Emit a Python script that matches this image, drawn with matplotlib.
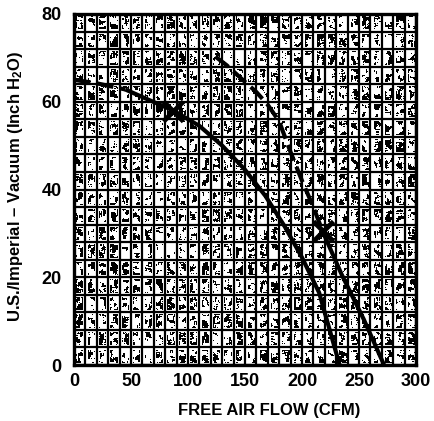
import numpy as np
import matplotlib.pyplot as plt

plt.rcParams['font.family'] = ['Liberation Sans Narrow', 'Liberation Sans', 'DejaVu Sans']
plt.rcParams['font.weight'] = 'bold'
plt.rcParams['font.stretch'] = 'condensed'
plt.rcParams['mathtext.fontset'] = 'custom'
plt.rcParams['mathtext.rm'] = 'Liberation Sans:bold'
plt.rcParams['mathtext.default'] = 'rm'

# axis ticks
flow_ticks = [0, 50, 100, 150, 200, 250, 300]
vac_ticks = [0, 20, 40, 60, 80]

# lower curve: dashed start, then solid
curve_a_dash_flow = [0, 20, 45]
curve_a_dash_vac = [65, 64.2, 62.8]
curve_a_solid_flow = [45, 65, 87, 110, 130, 150, 168, 185, 200, 215, 233]
curve_a_solid_vac = [62.8, 60.5, 58, 54.5, 50, 44.5, 38.5, 31.5, 24.5, 16.5, 0]

# upper curve: dashed down to the operating point, then solid
curve_b_dash_flow = [124, 134, 148, 160, 170, 180, 190, 200, 210, 218]
curve_b_dash_vac = [70.3, 68.3, 65, 62.2, 59.3, 55.5, 48.5, 42, 36, 30.5]
curve_b_solid_flow = [218, 235, 254, 272]
curve_b_solid_vac = [30.5, 20.5, 10.5, 0]

# operating points
op_flow = [87, 218]
op_vac = [58, 30.5]

fig = plt.figure(figsize=(4.34, 4.21), dpi=100)
ax = fig.add_axes([74 / 434, 56 / 421, 342 / 434, 351 / 421])

# halftone fill: a speckled clump inside every grid cell
rows, cols = 351, 342
rng = np.random.default_rng(7)
noise = rng.random((rows, cols))
k = np.ones(4) / 4
blur = np.apply_along_axis(lambda r: np.convolve(r, k, 'same'), 1, noise)
blur = np.apply_along_axis(lambda c: np.convolve(c, k, 'same'), 0, blur)
fx = (((np.arange(cols) + 0.5) * 300 / cols) % 10) / 10
fy = (((np.arange(rows) + 0.5) * 80 / rows) % 4) / 4
inside = ((fx > 0.2) & (fx < 0.82))[None, :] & ((fy > 0.12) & (fy < 0.88))[:, None]
speck = (blur > 0.52) & inside
ax.imshow(np.where(speck, 0.0, 1.0), cmap='gray', vmin=0, vmax=1,
          extent=(0, 300, 0, 80), aspect='auto', origin='lower',
          interpolation='nearest', zorder=0)

ax.set_xlim(0, 300)
ax.set_ylim(0, 80)
ax.set_xticks(flow_ticks)
ax.set_yticks(vac_ticks)
ax.set_xticks(np.arange(0, 301, 10), minor=True)
ax.set_yticks(np.arange(0, 81, 4), minor=True)
ax.grid(which='both', color='black', lw=1.6, zorder=1)
ax.set_axisbelow(False)
ax.tick_params(which='both', length=0)
ax.tick_params(axis='x', pad=6, labelsize=13)
ax.tick_params(axis='y', pad=9, labelsize=13)
for s in ax.spines.values():
    s.set_linewidth(2.4)

lw = 3.0
dash = (4, 1.6)
ax.plot(curve_a_dash_flow, curve_a_dash_vac, color='black', lw=lw,
        dashes=dash, zorder=3)
ax.plot(curve_a_solid_flow, curve_a_solid_vac, color='black', lw=lw,
        solid_capstyle='butt', zorder=3)
ax.plot(curve_b_dash_flow, curve_b_dash_vac, color='black', lw=lw,
        dashes=dash, zorder=3)
ax.plot(curve_b_solid_flow, curve_b_solid_vac, color='black', lw=lw,
        solid_capstyle='butt', zorder=3)
ax.plot(op_flow, op_vac, linestyle='none', marker='x', color='black',
        markersize=15, mew=3.5, zorder=4)

ax.set_xlabel('FREE AIR FLOW (CFM)', fontsize=12, fontweight='bold')
ax.xaxis.set_label_coords(0.572, -0.108)
ax.set_ylabel('U.S./Imperial – Vacuum (Inch H$_2$O)', fontsize=12,
              fontweight='bold')
ax.yaxis.set_label_coords(-0.143, 0.508)

fig.savefig('out.png', dpi=100)
